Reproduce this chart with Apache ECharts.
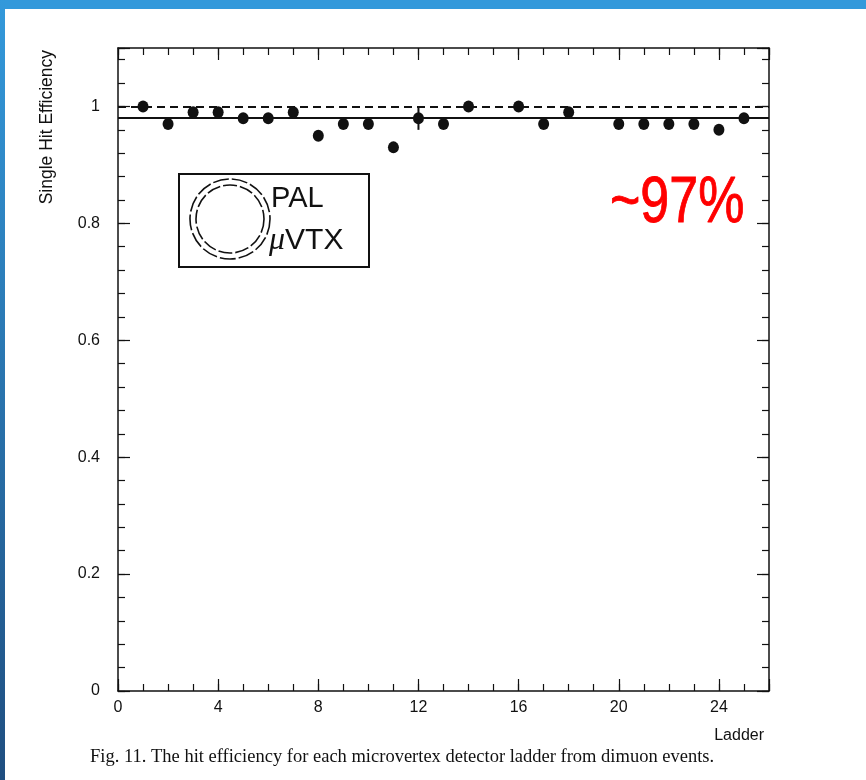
<!DOCTYPE html>
<html>
<head>
<meta charset="utf-8">
<title>Single Hit Efficiency per Ladder</title>
<script src="https://cdn.jsdelivr.net/npm/echarts@6/dist/echarts.min.js"></script>
<style>
  html, body { margin: 0; padding: 0; background: #ffffff; }
  #chart { width: 866px; height: 780px; }
</style>
</head>
<body>
<div id="chart"></div>
<script>
// Ladder numbers that have a measurement (15 and 19 have none)
const ladders = [1, 2, 3, 4, 5, 6, 7, 8, 9, 10, 11, 12, 13, 14, 16, 17, 18, 20, 21, 22, 23, 24, 25];
// Single hit efficiency for each ladder above
const efficiency = [1.00, 0.97, 0.99, 0.99, 0.98, 0.98, 0.99, 0.95, 0.97, 0.97, 0.93, 0.98, 0.97,
                    1.00, 1.00, 0.97, 0.99, 0.97, 0.97, 0.97, 0.97, 0.96, 0.98];
// Visible error bar (ladder 12)
const errorLadder = [12];
const errorLow = [0.96];
const errorHigh = [1.00];
// Reference levels: full efficiency and the mean
const fullEfficiency = 1.0;
const meanEfficiency = 0.976;
// Tick labels
const xTickLabels = ['0', '4', '8', '12', '16', '20', '24'];
const yTickLabels = ['0', '0.2', '0.4', '0.6', '0.8', '1'];

const INK = '#111111';
const frameLine = { color: INK, width: 1.5 };

function xAxisDef(position, interval, tickLen, withLabels, withLine) {
  return {
    type: 'value', min: 0, max: 26, interval: interval, position: position,
    axisLine: { show: withLine, onZero: false, lineStyle: frameLine },
    axisTick: { show: true, inside: true, length: tickLen, lineStyle: { color: INK, width: 1.2 } },
    axisLabel: {
      show: withLabels, margin: 9, fontSize: 16, color: INK, fontFamily: 'Liberation Sans',
      formatter: v => (xTickLabels.indexOf(String(v)) >= 0 ? String(v) : '')
    },
    splitLine: { show: false }
  };
}
function yAxisDef(position, interval, tickLen, withLabels, withLine) {
  return {
    type: 'value', min: 0, max: 1.1, interval: interval, position: position,
    axisLine: { show: withLine, onZero: false, lineStyle: frameLine },
    axisTick: { show: true, inside: true, length: tickLen, lineStyle: { color: INK, width: 1.2 } },
    axisLabel: {
      show: withLabels, margin: 18, fontSize: 16, color: INK, fontFamily: 'Liberation Sans',
      formatter: v => {
        const s = String(Math.round(v * 10) / 10);
        return yTickLabels.indexOf(s) >= 0 ? s : '';
      }
    },
    splitLine: { show: false }
  };
}

const chart = echarts.init(document.getElementById('chart'), null, { renderer: 'canvas' });

const option = {
  animation: false,
  backgroundColor: '#ffffff',
  grid: { left: 118, top: 48, right: 97, bottom: 89, containLabel: false },
  xAxis: [
    xAxisDef('bottom', 4, 12, true, true),
    xAxisDef('bottom', 1, 7, false, false),
    xAxisDef('top', 4, 12, false, true),
    xAxisDef('top', 1, 7, false, false)
  ],
  yAxis: [
    yAxisDef('left', 0.2, 12, true, true),
    yAxisDef('left', 0.04, 7, false, false),
    yAxisDef('right', 0.2, 12, false, true),
    yAxisDef('right', 0.04, 7, false, false)
  ],
  series: [
    {
      name: 'efficiency',
      type: 'scatter',
      xAxisIndex: 0, yAxisIndex: 0,
      data: ladders.map((l, i) => [l, efficiency[i]]),
      symbol: 'circle',
      symbolSize: [11, 12],
      itemStyle: { color: INK, opacity: 1 },
      emphasis: { disabled: true },
      z: 5,
      markLine: {
        silent: true,
        symbol: ['none', 'none'],
        label: { show: false },
        data: [
          { yAxis: fullEfficiency, lineStyle: { color: INK, width: 2.2, type: [8, 5], opacity: 1 } },
          { yAxis: meanEfficiency, lineStyle: { color: INK, width: 2, type: 'solid', opacity: 1 } }
        ]
      }
    },
    {
      name: 'error',
      type: 'custom',
      xAxisIndex: 0, yAxisIndex: 0,
      data: errorLadder.map((l, i) => [l, errorLow[i], errorHigh[i]]),
      renderItem: function (params, api) {
        const lo = api.coord([api.value(0), api.value(1)]);
        const hi = api.coord([api.value(0), api.value(2)]);
        return {
          type: 'line',
          shape: { x1: lo[0], y1: lo[1], x2: hi[0], y2: hi[1] },
          style: { stroke: INK, lineWidth: 2 }
        };
      },
      silent: true,
      z: 4
    }
  ],
  graphic: [
    // slide frame: blue band on top and a shaded band on the left
    { type: 'rect', left: 0, top: 0, shape: { width: 866, height: 9 }, style: { fill: '#3399db' }, z: 100 },
    {
      type: 'rect', left: 0, top: 0, shape: { width: 5, height: 780 },
      style: {
        fill: new echarts.graphic.LinearGradient(0, 0, 0, 1, [
          { offset: 0, color: '#3399db' },
          { offset: 1, color: '#1f4e80' }
        ])
      }, z: 100
    },
    // y axis title
    {
      type: 'text', x: 47, y: 50, rotation: Math.PI / 2,
      style: {
        text: 'Single Hit Efficiency', font: '17.5px "Liberation Sans"', fill: INK,
        textAlign: 'right', textVerticalAlign: 'middle'
      }
    },
    // x axis title
    {
      type: 'text', x: 764, y: 736,
      style: {
        text: 'Ladder', font: '16px "Liberation Sans"', fill: INK,
        textAlign: 'right', textVerticalAlign: 'middle'
      }
    },
    // figure caption
    {
      type: 'text', x: 90, y: 757,
      style: {
        text: 'Fig. 11. The hit efficiency for each microvertex detector ladder from dimuon events.',
        font: '18.5px "Liberation Serif"', fill: INK,
        textAlign: 'left', textVerticalAlign: 'middle'
      }
    },
    // detector logo box
    {
      type: 'rect', shape: { x: 179, y: 174, width: 190, height: 93 },
      style: { fill: '#ffffff', stroke: INK, lineWidth: 2 }, z: 10
    },
    {
      type: 'circle', shape: { cx: 230, cy: 219, r: 40 },
      style: { fill: 'none', stroke: INK, lineWidth: 1.6, lineDash: [16, 3] }, z: 11
    },
    {
      type: 'circle', shape: { cx: 230, cy: 219, r: 34 },
      style: { fill: 'none', stroke: INK, lineWidth: 1.6, lineDash: [14, 3] }, z: 11
    },
    {
      type: 'text', x: 271, y: 199,
      style: {
        text: 'PAL', font: '29px "Liberation Sans"', fill: INK,
        textAlign: 'left', textVerticalAlign: 'middle'
      }, z: 11
    },
    {
      type: 'text', x: 269, y: 241,
      style: {
        text: '{mu|μ}VTX', font: '30px "Liberation Sans"', fill: INK,
        textAlign: 'left', textVerticalAlign: 'middle',
        rich: { mu: { font: 'italic 32px "Liberation Serif"', fill: INK } }
      }, z: 11
    },
    // headline value
    {
      type: 'text', x: 610, y: 204, scaleX: 0.8, scaleY: 1,
      style: {
        text: '~97%', font: '65px "Liberation Sans"', fill: '#ff0000',
        stroke: '#ff0000', lineWidth: 0.9,
        textAlign: 'left', textVerticalAlign: 'middle'
      }, z: 12
    }
  ]
};

chart.setOption(option);
</script>
</body>
</html>
